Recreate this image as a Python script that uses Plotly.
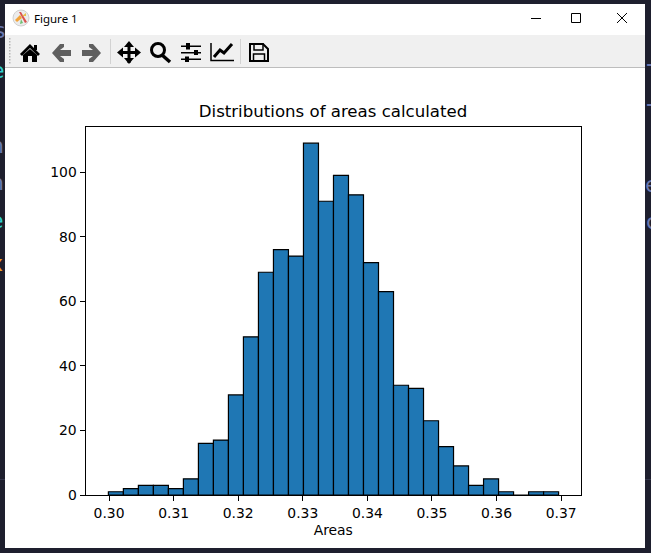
import numpy as np
import plotly.graph_objects as go

W, H = 651, 553

# histogram
counts = [1, 2, 3, 3, 2, 5, 16, 17, 31, 49, 69, 76, 74, 109, 91,
          99, 93, 72, 63, 34, 33, 23, 15, 9, 3, 5, 1, 0, 1, 1]
bin_first = 0.2999
bin_last = 0.3696
x_ticks = [0.30, 0.31, 0.32, 0.33, 0.34, 0.35, 0.36, 0.37]
x_labels = ["0.30", "0.31", "0.32", "0.33", "0.34", "0.35", "0.36", "0.37"]
y_ticks = [0, 20, 40, 60, 80, 100]

edges = np.linspace(bin_first, bin_last, len(counts) + 1)
centers = (edges[:-1] + edges[1:]) / 2

DARK = "#1e1f2e"
TOOLBAR = "#f0f0f0"
ICON = "#000000"
ICON_GREY = "#5f5f5f"
DEJAVU = "DejaVu Sans"


def px(x):
    return x / W


def py(y):
    return 1 - y / H


def rect(x0, y0, x1, y1, fill, line=None, lw=0):
    return dict(type="rect", xref="paper", yref="paper", layer="below",
                x0=px(x0), x1=px(x1), y0=py(y0), y1=py(y1),
                fillcolor=fill, line=dict(color=line or fill, width=lw))


def poly(points, fill=None, line=None, lw=0, close=True):
    # window furniture is specified in screen pixels
    d = "M " + " L ".join(f"{px(x):.5f},{py(y):.5f}" for x, y in points)
    if close:
        d += " Z"
    return dict(type="path", xref="paper", yref="paper", layer="below", path=d,
                fillcolor=fill if fill else "rgba(0,0,0,0)",
                line=dict(color=line or "rgba(0,0,0,0)", width=lw))


def circle(cx, cy, r, fill=None, line=None, lw=0):
    return dict(type="circle", xref="paper", yref="paper", layer="below",
                x0=px(cx - r), x1=px(cx + r), y0=py(cy + r), y1=py(cy - r),
                fillcolor=fill if fill else "rgba(0,0,0,0)",
                line=dict(color=line or "rgba(0,0,0,0)", width=lw))


shapes = [
    rect(5, 4, 645, 548, "#ffffff"),
    rect(5, 35, 645, 67, TOOLBAR),
    rect(5, 67, 645, 68, "#bdbdbd"),
    rect(0, 479, 5, 480, "#34354a"),
    rect(645, 479, 651, 480, "#34354a"),
]

# title bar logo
shapes += [
    circle(21, 18, 8, fill="#ececec", line="#d0d0d0", lw=1),
    poly([(15, 20), (20, 15), (22, 18), (17, 22)], fill="#f2a33a"),
    poly([(19, 12), (21, 12), (27, 22), (25, 23)], fill="#d9534f"),
    poly([(21, 19), (23, 23), (20, 24)], fill="#6fbf73"),
    poly([(22, 16), (26, 13), (26, 16)], fill="#e8c04a"),
]

# window buttons
shapes += [
    rect(531, 18, 541, 19, "#000000"),
    rect(571.5, 13.5, 580.5, 22.5, "rgba(0,0,0,0)", line="#000000", lw=1),
    poly([(617, 13), (627, 23)], line="#000000", lw=1, close=False),
    poly([(627, 13), (617, 23)], line="#000000", lw=1, close=False),
]

# toolbar grip and separators
for gy in range(38, 65, 3):
    shapes.append(rect(9, gy, 10.5, gy + 1.5, "#b5b5b5"))
shapes += [rect(110, 39, 111, 64, "#d2d2d2"), rect(240, 39, 241, 64, "#d2d2d2")]

# home
shapes += [
    poly([(20, 54), (30, 44), (40, 54), (38, 56), (30, 48), (22, 56)], fill=ICON),
    poly([(23, 55), (30, 49), (37, 55), (37, 62), (32, 62), (32, 56), (28, 56), (28, 62), (23, 62)], fill=ICON),
    rect(34, 45, 37, 50, ICON),
]

# back / forward
shapes += [
    poly([(52, 53), (60, 44), (64, 44), (64, 47), (60, 50), (71, 50), (71, 56), (60, 56), (64, 59), (64, 62), (60, 62)], fill=ICON_GREY),
    poly([(101, 53), (93, 44), (89, 44), (89, 47), (93, 50), (82, 50), (82, 56), (93, 56), (89, 59), (89, 62), (93, 62)], fill=ICON_GREY),
]

# pan
shapes += [
    rect(119, 51, 139, 54, ICON),
    rect(127.5, 43, 130.5, 63, ICON),
    poly([(129, 41), (134, 47), (124, 47)], fill=ICON),
    poly([(129, 64), (134, 58), (124, 58)], fill=ICON),
    poly([(117, 52.5), (123, 47.5), (123, 57.5)], fill=ICON),
    poly([(141, 52.5), (135, 47.5), (135, 57.5)], fill=ICON),
]

# zoom
shapes += [
    circle(158, 50, 6.5, line=ICON, lw=3),
    poly([(162, 55), (170, 62)], line=ICON, lw=3.5, close=False),
]

# subplots
shapes += [
    rect(181, 45.5, 201, 47, ICON), rect(186, 43, 190, 49.5, ICON),
    rect(181, 52, 201, 53.5, ICON), rect(194, 50, 198, 55, ICON),
    rect(181, 58.5, 201, 60, ICON), rect(185, 56.5, 189, 62, ICON),
]

# axes / edit
shapes += [
    poly([(211, 43), (211, 60.5), (234, 60.5)], line=ICON, lw=1.5, close=False),
    poly([(214, 57), (220, 50), (224, 53), (232, 44)], line=ICON, lw=3, close=False),
]

# save
shapes += [
    poly([(250, 44), (263, 44), (268, 49), (268, 61), (250, 61)], line=ICON, lw=2),
    rect(254, 44, 263, 50, "rgba(0,0,0,0)", line=ICON, lw=1.5),
    rect(253.5, 54, 264.5, 61, "rgba(0,0,0,0)", line=ICON, lw=1.5),
]


def side_text(x, y, s, color):
    return dict(text=s, x=px(x), y=py(y), xref="paper", yref="paper", showarrow=False,
                xanchor="center", yanchor="middle",
                font=dict(family="DejaVu Sans", size=22, color=color))


annotations = [
    dict(text="Figure 1", x=px(32), y=py(18.5), xref="paper", yref="paper", showarrow=False,
         xanchor="left", yanchor="middle", font=dict(family="Noto Sans", size=11.5, color="#000000")),
    side_text(-1, 31, "s", "#6a78b0"),
    side_text(-2, 70, "e", "#2fd0d0"),
    side_text(-3, 145, "n", "#6a78b0"),
    side_text(-3, 182, "n", "#6a78b0"),
    side_text(-3, 220, "e", "#2fd0d0"),
    side_text(-4, 263, "x", "#f0a020"),
    side_text(652, 68, "τ", "#6a78b0"),
    side_text(652, 108, "τ", "#6a78b0"),
    side_text(652, 184, "e", "#6a78b0"),
    side_text(652, 221, "c", "#6a78b0"),
]

fig = go.Figure(go.Bar(
    x=centers,
    y=counts,
    width=(bin_last - bin_first) / len(counts),
    marker=dict(color="#1f77b4", line=dict(color="#000000", width=1.2)),
    hoverinfo="x+y",
))

fig.update_layout(
    width=W,
    height=H,
    autosize=False,
    margin=dict(l=0, r=0, t=0, b=0, autoexpand=False),
    paper_bgcolor=DARK,
    plot_bgcolor="rgba(0,0,0,0)",
    showlegend=False,
    shapes=shapes,
    annotations=annotations,
    font=dict(family=DEJAVU, size=13.9, color="#000000"),
    title=dict(text="Distributions of areas calculated", x=333 / W, xanchor="center",
               y=py(111), yanchor="middle", font=dict(family=DEJAVU, size=16.6, color="#000000")),
    xaxis=dict(
        domain=[px(85.5), px(581)],
        range=[0.29636, 0.37307],
        tickvals=x_ticks,
        ticktext=x_labels,
        ticks="outside",
        ticklen=5,
        tickwidth=1,
        tickcolor="#000000",
        showline=True,
        mirror=True,
        linecolor="#000000",
        linewidth=1,
        showgrid=False,
        zeroline=False,
        title=dict(text="Areas", standoff=5, font=dict(family=DEJAVU, size=13.9)),
    ),
    yaxis=dict(
        domain=[py(495), py(127)],
        range=[0, 114],
        tickvals=y_ticks,
        ticks="outside",
        ticklen=5,
        tickwidth=1,
        tickcolor="#000000",
        showline=True,
        mirror=True,
        linecolor="#000000",
        linewidth=1,
        showgrid=False,
        zeroline=False,
    ),
)

fig.write_html(
    "out.html",
    config=dict(displayModeBar=False),
    post_script="document.body.style.margin='0';document.body.style.overflow='hidden';",
)
